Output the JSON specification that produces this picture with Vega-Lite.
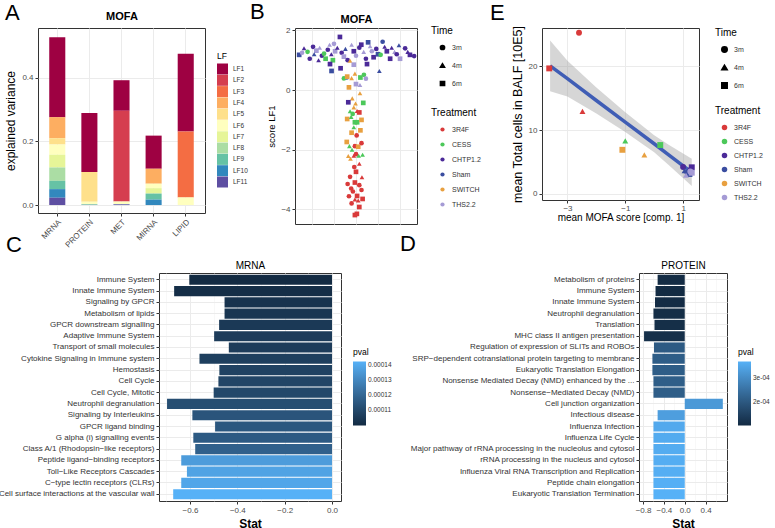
{
"$schema": "https://vega.github.io/schema/vega-lite/v6.json",
"background": "white",
"padding": {"left": -3, "top": 0, "right": 0, "bottom": 0},
"config": {
 "font": "Liberation Sans",
 "view": {"stroke": "#333333", "strokeWidth": 1},
 "axis": {"domain": false, "gridColor": "#EBEBEB", "tickColor": "#333333", "tickSize": 3, "labelColor": "#4D4D4D", "labelFontSize": 8, "titleFontWeight": "normal", "titleColor": "#000000", "titleFontSize": 10, "labelPadding": 2, "titlePadding": 4, "labelFlush": false, "labelOverlap": false},
 "legend": {"titleFontWeight": "normal", "titleColor": "#000000", "labelColor": "#333333", "labelFontSize": 7, "titleFontSize": 10, "padding": 0},
 "title": {"fontSize": 22, "fontWeight": "normal", "anchor": "start", "frame": "group", "color": "#000000"}
},
"datasets": {
 "adata": [
  {"omic":"MRNA","LF":"LF1","k":1,"v":0.251},{"omic":"MRNA","LF":"LF4","k":4,"v":0.066},{"omic":"MRNA","LF":"LF5","k":5,"v":0.02},{"omic":"MRNA","LF":"LF6","k":6,"v":0.032},{"omic":"MRNA","LF":"LF7","k":7,"v":0.04},{"omic":"MRNA","LF":"LF8","k":8,"v":0.042},{"omic":"MRNA","LF":"LF9","k":9,"v":0.026},{"omic":"MRNA","LF":"LF10","k":10,"v":0.027},{"omic":"MRNA","LF":"LF11","k":11,"v":0.023},
  {"omic":"PROTEIN","LF":"LF1","k":1,"v":0.185},{"omic":"PROTEIN","LF":"LF5","k":5,"v":0.094},{"omic":"PROTEIN","LF":"LF6","k":6,"v":0.007},{"omic":"PROTEIN","LF":"LF8","k":8,"v":0.002},{"omic":"PROTEIN","LF":"LF10","k":10,"v":0.001},
  {"omic":"MET","LF":"LF1","k":1,"v":0.096},{"omic":"MET","LF":"LF2","k":2,"v":0.285},{"omic":"MET","LF":"LF6","k":6,"v":0.008},{"omic":"MET","LF":"LF10","k":10,"v":0.001},{"omic":"MET","LF":"LF11","k":11,"v":0.002},
  {"omic":"MIRNA","LF":"LF1","k":1,"v":0.104},{"omic":"MIRNA","LF":"LF4","k":4,"v":0.047},{"omic":"MIRNA","LF":"LF6","k":6,"v":0.014},{"omic":"MIRNA","LF":"LF7","k":7,"v":0.017},{"omic":"MIRNA","LF":"LF9","k":9,"v":0.019},{"omic":"MIRNA","LF":"LF10","k":10,"v":0.017},
  {"omic":"LIPID","LF":"LF1","k":1,"v":0.244},{"omic":"LIPID","LF":"LF3","k":3,"v":0.207},{"omic":"LIPID","LF":"LF6","k":6,"v":0.024}
 ],
 "bdata": [
  {"x":-0.58,"s":1.18,"Treatment":"Sham","Time":"6m"},{"x":-0.36,"s":1.40,"Treatment":"CHTP1.2","Time":"4m"},{"x":-0.2,"s":1.28,"Treatment":"CESS","Time":"3m"},{"x":-0.1,"s":1.05,"Treatment":"CHTP1.2","Time":"3m"},{"x":0.05,"s":1.45,"Treatment":"CHTP1.2","Time":"3m"},{"x":0.2,"s":1.32,"Treatment":"THS2.2","Time":"6m"},{"x":0.35,"s":1.42,"Treatment":"THS2.2","Time":"4m"},{"x":0.45,"s":1.15,"Treatment":"CHTP1.2","Time":"3m"},{"x":0.55,"s":1.22,"Treatment":"CESS","Time":"3m"},{"x":0.62,"s":1.05,"Treatment":"CESS","Time":"6m"},
  {"x":0.72,"s":1.35,"Treatment":"CHTP1.2","Time":"3m"},{"x":0.8,"s":1.52,"Treatment":"THS2.2","Time":"4m"},{"x":0.88,"s":1.2,"Treatment":"CHTP1.2","Time":"4m"},{"x":0.95,"s":1.0,"Treatment":"CESS","Time":"6m"},{"x":0.89,"s":0.64,"Treatment":"Sham","Time":"6m"},{"x":0.82,"s":0.87,"Treatment":"CHTP1.2","Time":"6m"},{"x":1.05,"s":1.30,"Treatment":"THS2.2","Time":"6m"},{"x":1.15,"s":1.42,"Treatment":"CHTP1.2","Time":"4m"},{"x":1.27,"s":1.78,"Treatment":"CHTP1.2","Time":"6m"},{"x":1.3,"s":0.73,"Treatment":"CHTP1.2","Time":"6m"},
  {"x":1.35,"s":1.25,"Treatment":"CHTP1.2","Time":"3m"},{"x":1.45,"s":1.12,"Treatment":"THS2.2","Time":"6m"},{"x":1.52,"s":1.38,"Treatment":"Sham","Time":"4m"},{"x":1.58,"s":0.42,"Treatment":"Sham","Time":"3m"},{"x":1.62,"s":1.0,"Treatment":"CHTP1.2","Time":"3m"},{"x":1.73,"s":0.98,"Treatment":"SWITCH","Time":"4m"},{"x":1.8,"s":1.52,"Treatment":"THS2.2","Time":"4m"},{"x":1.9,"s":1.3,"Treatment":"CHTP1.2","Time":"6m"},{"x":2.0,"s":1.15,"Treatment":"THS2.2","Time":"3m"},{"x":1.9,"s":0.85,"Treatment":"THS2.2","Time":"6m"},
  {"x":2.15,"s":1.42,"Treatment":"CHTP1.2","Time":"3m"},{"x":2.24,"s":1.52,"Treatment":"CHTP1.2","Time":"6m"},{"x":2.35,"s":1.28,"Treatment":"THS2.2","Time":"4m"},{"x":2.45,"s":1.05,"Treatment":"CHTP1.2","Time":"3m"},{"x":2.5,"s":0.87,"Treatment":"CHTP1.2","Time":"6m"},{"x":2.64,"s":1.47,"Treatment":"THS2.2","Time":"4m"},{"x":2.72,"s":1.3,"Treatment":"THS2.2","Time":"3m"},{"x":2.8,"s":1.1,"Treatment":"CHTP1.2","Time":"6m"},{"x":2.92,"s":1.38,"Treatment":"CHTP1.2","Time":"3m"},{"x":3.0,"s":1.2,"Treatment":"Sham","Time":"6m"},
  {"x":3.06,"s":0.64,"Treatment":"Sham","Time":"4m"},{"x":3.12,"s":1.18,"Treatment":"CESS","Time":"3m"},{"x":3.21,"s":1.62,"Treatment":"Sham","Time":"3m"},{"x":3.3,"s":1.45,"Treatment":"CHTP1.2","Time":"4m"},{"x":3.4,"s":1.3,"Treatment":"CHTP1.2","Time":"6m"},{"x":3.55,"s":1.05,"Treatment":"CHTP1.2","Time":"6m"},{"x":3.62,"s":1.42,"Treatment":"CHTP1.2","Time":"4m"},{"x":3.75,"s":1.28,"Treatment":"THS2.2","Time":"4m"},{"x":3.85,"s":1.2,"Treatment":"CHTP1.2","Time":"3m"},{"x":4.0,"s":1.05,"Treatment":"THS2.2","Time":"6m"},
  {"x":4.23,"s":1.40,"Treatment":"CHTP1.2","Time":"3m"},{"x":4.35,"s":1.28,"Treatment":"CHTP1.2","Time":"4m"},{"x":4.45,"s":1.18,"Treatment":"CHTP1.2","Time":"6m"},{"x":4.64,"s":1.14,"Treatment":"CHTP1.2","Time":"3m"},{"x":-0.45,"s":1.25,"Treatment":"THS2.2","Time":"3m"},{"x":0.1,"s":1.2,"Treatment":"Sham","Time":"4m"},{"x":1.0,"s":1.55,"Treatment":"THS2.2","Time":"3m"},{"x":3.95,"s":1.5,"Treatment":"Sham","Time":"4m"},{"x":2.55,"s":1.6,"Treatment":"Sham","Time":"6m"},{"x":0.3,"s":1.0,"Treatment":"CHTP1.2","Time":"4m"},
  {"x":1.45,"s":0.39,"Treatment":"CESS","Time":"3m"},{"x":1.6,"s":0.45,"Treatment":"SWITCH","Time":"6m"},{"x":1.8,"s":0.40,"Treatment":"SWITCH","Time":"4m"},{"x":1.95,"s":0.55,"Treatment":"SWITCH","Time":"4m"},{"x":2.2,"s":0.42,"Treatment":"CESS","Time":"6m"},{"x":2.36,"s":0.51,"Treatment":"CESS","Time":"3m"},{"x":2.45,"s":0.38,"Treatment":"THS2.2","Time":"3m"},{"x":2.18,"s":0.17,"Treatment":"THS2.2","Time":"4m"},{"x":1.68,"s":0.09,"Treatment":"SWITCH","Time":"6m"},{"x":2.0,"s":0.2,"Treatment":"THS2.2","Time":"6m"},
  {"x":2.18,"s":-0.11,"Treatment":"SWITCH","Time":"4m"},{"x":1.83,"s":-0.28,"Treatment":"SWITCH","Time":"4m"},{"x":1.65,"s":-0.41,"Treatment":"CHTP1.2","Time":"6m"},{"x":1.98,"s":-0.45,"Treatment":"SWITCH","Time":"4m"},{"x":2.33,"s":-0.43,"Treatment":"CESS","Time":"6m"},{"x":1.9,"s":-0.58,"Treatment":"SWITCH","Time":"4m"},{"x":1.73,"s":-0.71,"Treatment":"CESS","Time":"4m"},{"x":1.85,"s":-0.8,"Treatment":"CESS","Time":"3m"},{"x":2.05,"s":-0.7,"Treatment":"3R4F","Time":"4m"},{"x":2.15,"s":-0.75,"Treatment":"3R4F","Time":"6m"},
  {"x":1.6,"s":-0.97,"Treatment":"SWITCH","Time":"6m"},{"x":1.78,"s":-0.9,"Treatment":"CESS","Time":"4m"},{"x":1.95,"s":-1.08,"Treatment":"CESS","Time":"6m"},{"x":2.05,"s":-1.08,"Treatment":"CESS","Time":"6m"},{"x":2.25,"s":-1.0,"Treatment":"SWITCH","Time":"6m"},{"x":1.9,"s":-1.25,"Treatment":"CESS","Time":"4m"},{"x":1.8,"s":-1.43,"Treatment":"SWITCH","Time":"6m"},{"x":2.2,"s":-1.35,"Treatment":"SWITCH","Time":"6m"},{"x":2.03,"s":-1.52,"Treatment":"3R4F","Time":"3m"},{"x":1.58,"s":-1.74,"Treatment":"SWITCH","Time":"6m"},
  {"x":1.7,"s":-1.88,"Treatment":"CESS","Time":"4m"},{"x":1.82,"s":-2.0,"Treatment":"CESS","Time":"4m"},{"x":1.95,"s":-1.88,"Treatment":"3R4F","Time":"3m"},{"x":2.1,"s":-1.9,"Treatment":"SWITCH","Time":"6m"},{"x":2.25,"s":-1.78,"Treatment":"3R4F","Time":"3m"},{"x":1.65,"s":-2.21,"Treatment":"SWITCH","Time":"4m"},{"x":1.75,"s":-2.3,"Treatment":"SWITCH","Time":"4m"},{"x":1.9,"s":-2.2,"Treatment":"3R4F","Time":"4m"},{"x":2.0,"s":-2.15,"Treatment":"3R4F","Time":"3m"},{"x":2.12,"s":-2.2,"Treatment":"CESS","Time":"4m"},
  {"x":2.3,"s":-2.17,"Treatment":"CESS","Time":"4m"},{"x":1.92,"s":-2.58,"Treatment":"3R4F","Time":"3m"},{"x":2.15,"s":-2.47,"Treatment":"3R4F","Time":"4m"},{"x":2.0,"s":-2.74,"Treatment":"3R4F","Time":"6m"},{"x":1.73,"s":-2.91,"Treatment":"3R4F","Time":"3m"},{"x":2.27,"s":-2.92,"Treatment":"3R4F","Time":"4m"},{"x":1.95,"s":-3.1,"Treatment":"3R4F","Time":"6m"},{"x":2.15,"s":-3.19,"Treatment":"3R4F","Time":"3m"},{"x":1.78,"s":-3.3,"Treatment":"3R4F","Time":"3m"},{"x":1.86,"s":-3.4,"Treatment":"3R4F","Time":"3m"},
  {"x":2.25,"s":-3.35,"Treatment":"3R4F","Time":"3m"},{"x":1.68,"s":-3.56,"Treatment":"3R4F","Time":"3m"},{"x":2.05,"s":-3.55,"Treatment":"3R4F","Time":"6m"},{"x":1.95,"s":-3.67,"Treatment":"3R4F","Time":"4m"},{"x":2.1,"s":-3.7,"Treatment":"3R4F","Time":"4m"},{"x":2.3,"s":-3.65,"Treatment":"3R4F","Time":"6m"},{"x":1.8,"s":-3.8,"Treatment":"3R4F","Time":"3m"},{"x":2.15,"s":-3.92,"Treatment":"3R4F","Time":"6m"},{"x":1.95,"s":-4.19,"Treatment":"3R4F","Time":"6m"},{"x":2.04,"s":-4.15,"Treatment":"3R4F","Time":"6m"},{"x":1.62,"s":-3.15,"Treatment":"3R4F","Time":"3m"}
 ],
 "epts": [
  {"x":-2.6,"y":25.3,"Treatment":"3R4F","Time":"3m"},{"x":-2.48,"y":12.95,"Treatment":"3R4F","Time":"4m"},{"x":-3.63,"y":19.7,"Treatment":"3R4F","Time":"6m"},{"x":-1.0,"y":8.3,"Treatment":"CESS","Time":"4m"},{"x":0.21,"y":7.65,"Treatment":"CESS","Time":"6m"},{"x":-0.34,"y":6.1,"Treatment":"SWITCH","Time":"4m"},{"x":-1.1,"y":6.9,"Treatment":"SWITCH","Time":"6m"},{"x":1.0,"y":4.2,"Treatment":"CHTP1.2","Time":"3m"},{"x":1.2,"y":3.8,"Treatment":"CHTP1.2","Time":"4m"},{"x":1.3,"y":4.15,"Treatment":"CHTP1.2","Time":"6m"},{"x":1.15,"y":3.3,"Treatment":"Sham","Time":"3m"},{"x":1.05,"y":3.6,"Treatment":"Sham","Time":"4m"},{"x":1.22,"y":3.1,"Treatment":"Sham","Time":"6m"},{"x":1.25,"y":3.5,"Treatment":"THS2.2","Time":"3m"},{"x":1.1,"y":2.9,"Treatment":"THS2.2","Time":"4m"},{"x":1.3,"y":3.3,"Treatment":"THS2.2","Time":"6m"}
 ],
 "eband": [
  {"x":-3.6,"lo":16.1,"hi":24.1,"fit":20.1},{"x":-3.0,"lo":15.3,"hi":20.9,"fit":18.1},{"x":-2.0,"lo":12.6,"hi":16.7,"fit":14.65},{"x":-1.0,"lo":9.7,"hi":12.8,"fit":11.25},{"x":0.0,"lo":6.5,"hi":9.2,"fit":7.85},{"x":0.5,"lo":4.5,"hi":7.7,"fit":6.1},{"x":1.3,"lo":1.2,"hi":5.5,"fit":3.35}
 ],
 "cdata": [
  {"term":"Immune System","stat":-0.603,"pval":0.0001},{"term":"Innate Immune System","stat":-0.667,"pval":0.000101},{"term":"Signaling by GPCR","stat":-0.454,"pval":0.000103},{"term":"Metabolism of lipids","stat":-0.454,"pval":0.000104},{"term":"GPCR downstream signalling","stat":-0.477,"pval":0.000105},{"term":"Adaptive Immune System","stat":-0.498,"pval":0.000106},{"term":"Transport of small molecules","stat":-0.436,"pval":0.000106},{"term":"Cytokine Signaling in Immune system","stat":-0.56,"pval":0.000107},{"term":"Hemostasis","stat":-0.476,"pval":0.000108},{"term":"Cell Cycle","stat":-0.48,"pval":0.000109},
  {"term":"Cell Cycle, Mitotic","stat":-0.5,"pval":0.00011},{"term":"Neutrophil degranulation","stat":-0.697,"pval":0.000112},{"term":"Signaling by Interleukins","stat":-0.59,"pval":0.000114},{"term":"GPCR ligand binding","stat":-0.494,"pval":0.000115},{"term":"G alpha (i) signalling events","stat":-0.586,"pval":0.000116},{"term":"Class A/1 (Rhodopsin−like receptors)","stat":-0.578,"pval":0.000118},{"term":"Peptide ligand−binding receptors","stat":-0.637,"pval":0.000136},{"term":"Toll−Like Receptors Cascades","stat":-0.613,"pval":0.000138},{"term":"C−type lectin receptors (CLRs)","stat":-0.637,"pval":0.000139},{"term":"Cell surface interactions at the vascular wall","stat":-0.671,"pval":0.000142}
 ],
 "ddata": [
  {"term":"Metabolism of proteins","stat":-0.52,"pval":0.000105},{"term":"Immune System","stat":-0.56,"pval":0.000103},{"term":"Innate Immune System","stat":-0.57,"pval":0.000106},{"term":"Neutrophil degranulation","stat":-0.6,"pval":0.00011},{"term":"Translation","stat":-0.58,"pval":0.000112},{"term":"MHC class II antigen presentation","stat":-0.78,"pval":0.000115},{"term":"Regulation of expression of SLITs and ROBOs","stat":-0.59,"pval":0.000205},{"term":"SRP−dependent cotranslational protein targeting to membrane","stat":-0.62,"pval":0.00021},{"term":"Eukaryotic Translation Elongation","stat":-0.62,"pval":0.00021},{"term":"Nonsense Mediated Decay (NMD) enhanced by the ...","stat":-0.6,"pval":0.000212},
  {"term":"Nonsense−Mediated Decay (NMD)","stat":-0.6,"pval":0.000212},{"term":"Cell junction organization","stat":0.73,"pval":0.000325},{"term":"Infectious disease","stat":-0.52,"pval":0.000335},{"term":"Influenza Infection","stat":-0.6,"pval":0.000355},{"term":"Influenza Life Cycle","stat":-0.6,"pval":0.000358},{"term":"Major pathway of rRNA processing in the nucleolus and cytosol","stat":-0.6,"pval":0.00036},{"term":"rRNA processing in the nucleus and cytosol","stat":-0.6,"pval":0.000362},{"term":"Influenza Viral RNA Transcription and Replication","stat":-0.6,"pval":0.000364},{"term":"Peptide chain elongation","stat":-0.6,"pval":0.000366},{"term":"Eukaryotic Translation Termination","stat":-0.6,"pval":0.000369}
 ]
},
"bounds": "full",
"spacing": -18,
"resolve": {"scale": {"x": "independent", "y": "independent", "color": "independent", "shape": "independent"}},
"vconcat": [
 {
  "hconcat": [
   {
    "width": 167, "height": 185,
    "title": {"text": "A", "dx": -33, "dy": 19},
    "data": {"name": "adata"},
    "layer": [
     {"mark": {"type": "bar"},
      "encoding": {
       "x": {"field": "omic", "type": "nominal", "sort": ["MRNA","PROTEIN","MET","MIRNA","LIPID"], "scale": {"paddingInner": 0.5, "paddingOuter": 0.35}, "axis": {"title": null, "labelAngle": -45, "grid": true, "bandPosition": 0.5}},
       "y": {"field": "v", "type": "quantitative", "stack": "zero", "scale": {"domain": [-0.025, 0.556], "nice": false, "zero": false}, "axis": {"values": [0, 0.2, 0.4], "format": ".1f", "title": "explained variance", "titleFontSize": 12}},
       "color": {"field": "LF", "type": "nominal", "scale": {"domain": ["LF1","LF2","LF3","LF4","LF5","LF6","LF7","LF8","LF9","LF10","LF11"], "range": ["#9e0142","#d53e4f","#f46d43","#fdae61","#fee08b","#ffffbf","#e6f598","#abdda4","#66c2a5","#3288bd","#5e4fa2"]},
         "legend": {"title": "LF", "orient": "none", "legendX": 179, "legendY": 24, "symbolType": "square", "symbolSize": 121, "rowPadding": 0.3, "labelFontSize": 6.5, "titleFontSize": 8.5, "symbolStrokeWidth": 0, "labelOffset": 5, "titlePadding": 3, "labelColor": "#333333"}},
       "order": {"field": "k", "type": "quantitative", "sort": "descending"}
      }},
     {"mark": {"type": "rule", "opacity": 0},
      "encoding": {"x": {"field": "omic", "type": "nominal", "sort": ["MRNA","PROTEIN","MET","MIRNA","LIPID"], "axis": {"orient": "top", "title": "MOFA", "titleFontWeight": "bold", "titleFontSize": 11, "labels": false, "ticks": false, "domain": false, "grid": false, "titlePadding": 7}}}}
    ],
    "resolve": {"axis": {"x": "independent"}}
   },
   {"width": 50, "height": 10, "data": {"values": [{}]}, "mark": {"type": "text"}, "encoding": {"text": {"value": ""}}, "view": {"stroke": null}},
   {
    "width": 122, "height": 196,
    "title": {"text": "B", "dx": -45, "dy": 15},
    "data": {"name": "bdata"},
    "layer": [
     {"mark": {"type": "point", "filled": true, "size": 22, "opacity": 1},
      "encoding": {
       "x": {"field": "x", "type": "quantitative", "scale": {"domain": [-0.77, 4.77], "nice": false, "zero": false}, "axis": {"values": [0,1,2,3,4], "labels": false, "ticks": false, "title": null}},
       "y": {"field": "s", "type": "quantitative", "scale": {"domain": [-4.49, 2.08], "nice": false, "zero": false}, "axis": {"values": [-4,-2,0,2], "title": "score LF1", "titleFontSize": 9.5}},
       "shape": {"field": "Time", "type": "nominal", "scale": {"domain": ["3m","4m","6m"], "range": ["circle","triangle-up","square"]},
         "legend": {"title": "Time", "orient": "none", "legendX": 136, "legendY": -2, "symbolSize": 18, "symbolFillColor": "#000000", "symbolStrokeColor": "#000000", "symbolOffset": 8, "labelOffset": 6, "rowPadding": 7, "titlePadding": 8, "labelColor": "#333333"}},
       "color": {"field": "Treatment", "type": "nominal", "scale": {"domain": ["3R4F","CESS","CHTP1.2","Sham","SWITCH","THS2.2"], "range": ["#D93A3A","#4CC85A","#4B2A98","#3A4DA0","#E8A040","#A59BD5"]},
         "legend": {"title": "Treatment", "orient": "none", "legendX": 136, "legendY": 80, "symbolType": "circle", "symbolSize": 18, "symbolOffset": 8, "labelOffset": 6, "rowPadding": 7, "titlePadding": 8, "labelColor": "#333333"}}
      }},
     {"mark": {"type": "rule", "opacity": 0},
      "encoding": {"x": {"field": "x", "type": "quantitative", "axis": {"orient": "top", "title": "MOFA", "titleFontWeight": "bold", "titleFontSize": 11, "labels": false, "ticks": false, "domain": false, "grid": false, "titlePadding": 4}}}}
    ],
    "resolve": {"axis": {"x": "independent"}}
   },
   {"width": 85, "height": 10, "data": {"values": [{}]}, "mark": {"type": "text"}, "encoding": {"text": {"value": ""}}, "view": {"stroke": null}},
   {
    "width": 157, "height": 172,
    "title": {"text": "E", "dx": -52, "dy": 4},
    "layer": [
     {"data": {"name": "eband"}, "mark": {"type": "area", "color": "#999999", "opacity": 0.4},
      "encoding": {
       "x": {"field": "x", "type": "quantitative", "scale": {"domain": [-3.88, 1.55], "nice": false, "zero": false}, "axis": {"values": [-3,-2,-1,0,1], "title": "mean MOFA score [comp. 1]", "titleFontSize": 10, "titlePadding": 0, "labelPadding": 1}},
       "y": {"field": "lo", "type": "quantitative", "scale": {"domain": [-0.99, 26.05], "nice": false, "zero": false}, "axis": {"values": [0,5,10,15,20,25], "title": "mean Total cells in BALF [10E5]", "titleFontSize": 12.5}},
       "y2": {"field": "hi"}
      }},
     {"data": {"name": "eband"}, "mark": {"type": "line", "color": "#3F5DB5", "strokeWidth": 3.5},
      "encoding": {"x": {"field": "x", "type": "quantitative"}, "y": {"field": "fit", "type": "quantitative"}}},
     {"data": {"name": "epts"}, "mark": {"type": "point", "filled": true, "size": 35, "opacity": 1},
      "encoding": {
       "x": {"field": "x", "type": "quantitative"},
       "y": {"field": "y", "type": "quantitative"},
       "shape": {"field": "Time", "type": "nominal", "scale": {"domain": ["3m","4m","6m"], "range": ["circle","triangle-up","square"]},
         "legend": {"title": "Time", "orient": "none", "legendX": 173, "legendY": 0, "symbolSize": 30, "symbolFillColor": "#000000", "symbolStrokeColor": "#000000", "symbolOffset": 6, "labelOffset": 6, "rowPadding": 6, "titlePadding": 8, "labelColor": "#333333"}},
       "color": {"field": "Treatment", "type": "nominal", "scale": {"domain": ["3R4F","CESS","CHTP1.2","Sham","SWITCH","THS2.2"], "range": ["#D93A3A","#4CC85A","#4B2A98","#3A4DA0","#E8A040","#A59BD5"]},
         "legend": {"title": "Treatment", "orient": "none", "legendX": 173, "legendY": 78, "symbolType": "circle", "symbolSize": 30, "symbolOffset": 6, "labelOffset": 6, "rowPadding": 6, "titlePadding": 8, "labelColor": "#333333"}}
      }}
    ]
   }
  ],
  "spacing": 20,
  "bounds": "flush",
  "resolve": {"scale": {"x": "independent", "y": "independent", "color": "independent", "shape": "independent"}}
 },
 {
  "hconcat": [
   {"width": 101, "height": 10, "data": {"values": [{}]}, "mark": {"type": "text"}, "encoding": {"text": {"value": ""}}, "view": {"stroke": null}},
   {
    "width": 182, "height": 228,
    "title": {"text": "C", "dx": -153, "dy": 1},
    "data": {"name": "cdata"},
    "layer": [
     {"mark": {"type": "bar"},
      "encoding": {
       "y": {"field": "term", "type": "nominal", "sort": null, "scale": {"paddingInner": 0.1, "paddingOuter": 0.15}, "axis": {"title": null, "grid": true, "bandPosition": 0.5, "labelColor": "#333333", "labelLimit": 400}},
       "x": {"field": "stat", "type": "quantitative", "scale": {"domain": [-0.731, 0.038], "nice": false, "zero": false}, "axis": {"values": [-0.6,-0.4,-0.2,0], "format": ".1f", "title": "Stat", "titleFontWeight": "bold", "titleFontSize": 12}},
       "color": {"field": "pval", "type": "quantitative", "scale": {"domain": [0.0001, 0.000142], "range": ["#132B43", "#56B1F7"]},
         "legend": {"title": "pval", "orient": "none", "legendX": 194, "legendY": 75, "direction": "vertical", "gradientLength": 64, "gradientThickness": 13, "values": [0.00011, 0.00012, 0.00013, 0.00014], "format": ".5f", "labelFontSize": 6.5, "titleFontSize": 8.5, "labelColor": "#333333"}}
      }},
     {"mark": {"type": "rule", "opacity": 0},
      "encoding": {"x": {"field": "stat", "type": "quantitative", "axis": {"orient": "top", "title": "MRNA", "titleFontSize": 10, "labels": false, "ticks": false, "domain": false, "grid": true, "values": [-0.7,-0.5,-0.3,-0.1], "gridColor": "#F3F3F3", "gridWidth": 0.6, "titlePadding": 3}}}}
    ],
    "resolve": {"axis": {"x": "independent"}}
   },
   {"width": 258, "height": 10, "data": {"values": [{}]}, "mark": {"type": "text"}, "encoding": {"text": {"value": ""}}, "view": {"stroke": null}},
   {
    "width": 88, "height": 228,
    "title": {"text": "D", "dx": -239, "dy": 0},
    "data": {"name": "ddata"},
    "layer": [
     {"mark": {"type": "bar"},
      "encoding": {
       "y": {"field": "term", "type": "nominal", "sort": null, "scale": {"paddingInner": 0.1, "paddingOuter": 0.15}, "axis": {"title": null, "grid": true, "bandPosition": 0.5, "labelColor": "#333333", "labelLimit": 400}},
       "x": {"field": "stat", "type": "quantitative", "scale": {"domain": [-0.877, 0.81], "nice": false, "zero": false}, "axis": {"values": [-0.8,-0.4,0,0.4], "format": ".1f", "title": "Stat", "titleFontWeight": "bold", "titleFontSize": 12}},
       "color": {"field": "pval", "type": "quantitative", "scale": {"domain": [0.000103, 0.000369], "range": ["#132B43", "#56B1F7"]},
         "legend": {"title": "pval", "orient": "none", "legendX": 99, "legendY": 75, "direction": "vertical", "gradientLength": 64, "gradientThickness": 13, "values": [0.0002, 0.0003], "labelExpr": "replace(format(datum.value, '.0e'), 'e-', 'e-0')", "labelFontSize": 6.5, "titleFontSize": 8.5, "labelColor": "#333333"}}
      }},
     {"mark": {"type": "rule", "opacity": 0},
      "encoding": {"x": {"field": "stat", "type": "quantitative", "axis": {"orient": "top", "title": "PROTEIN", "titleFontSize": 10, "labels": false, "ticks": false, "domain": false, "grid": true, "values": [-0.6,-0.2,0.2,0.6], "gridColor": "#F3F3F3", "gridWidth": 0.6, "titlePadding": 3}}}}
    ],
    "resolve": {"axis": {"x": "independent"}}
   }
  ],
  "spacing": 20,
  "bounds": "flush",
  "resolve": {"scale": {"x": "independent", "y": "independent", "color": "independent", "shape": "independent"}}
 }
]
}
